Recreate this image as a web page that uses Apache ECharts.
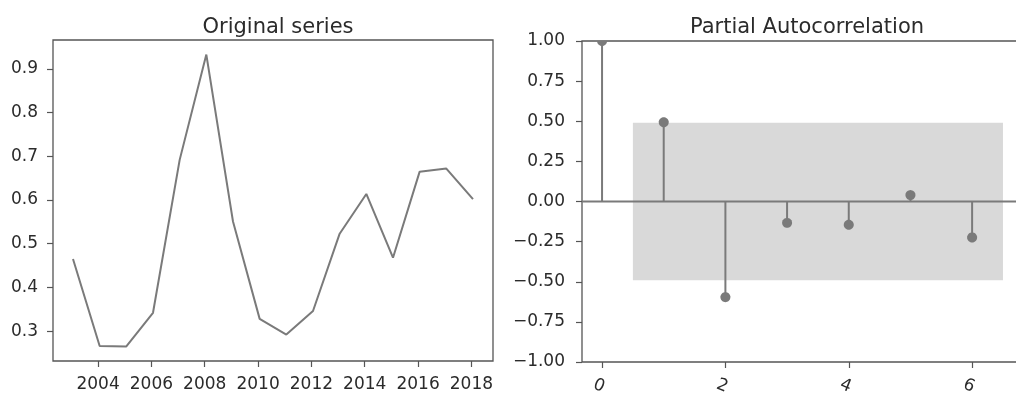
<!DOCTYPE html>
<html>
<head>
<meta charset="utf-8">
<script src="https://cdn.jsdelivr.net/npm/echarts@6/dist/echarts.min.js"></script>
<style>
  html, body { margin: 0; padding: 0; background: #fff; }
  #chart { width: 1016px; height: 396px; }
</style>
</head>
<body>
<div id="chart"></div>
<script>
// Annual observations
const dates = ['2003-01-23', '2004-01-23', '2005-01-23', '2006-01-23', '2007-01-23', '2008-01-23',
  '2009-01-23', '2010-01-23', '2011-01-23', '2012-01-23', '2013-01-23', '2014-01-23',
  '2015-01-23', '2016-01-23', '2017-01-23', '2018-01-23'];
const seriesValues = [0.465, 0.266, 0.265, 0.342, 0.692, 0.933, 0.551, 0.328,
  0.292, 0.346, 0.523, 0.614, 0.468, 0.665, 0.672, 0.602];
const yearTicks = [2004, 2006, 2008, 2010, 2012, 2014, 2016, 2018];
const valueTicks = [0.3, 0.4, 0.5, 0.6, 0.7, 0.8, 0.9];

// Partial autocorrelation by lag, with the 95% band
const lags = [0, 1, 2, 3, 4, 5, 6];
const pacfValues = [1.0, 0.494, -0.596, -0.133, -0.145, 0.04, -0.224];
const confLower = [0, -0.49, -0.49, -0.49, -0.49, -0.49, -0.49];
const confUpper = [0, 0.49, 0.49, 0.49, 0.49, 0.49, 0.49];
const lagTicks = [0, 2, 4, 6];

const FONT = 'DejaVu Sans';
const TEXT = '#2b2b2b';
const FRAME = '#555';
const MARK = '#7a7a7a';

function decimalYear(s) {
  const d = new Date(s + 'T00:00:00Z');
  const y = d.getUTCFullYear();
  const start = Date.UTC(y, 0, 1), end = Date.UTC(y + 1, 0, 1);
  return y + (d.getTime() - start) / (end - start);
}
const xYears = dates.map(decimalYear);

// matplotlib-style 5% margins around the data extent
function padded(arr, frac) {
  const lo = Math.min(...arr), hi = Math.max(...arr), s = hi - lo;
  return [lo - s * frac, hi + s * frac];
}
const xExt = padded(xYears, 0.05);
const yExt = padded(seriesValues, 0.05);
const lagExt = padded([lags[0], lags[lags.length - 1] + 0.5], 0.05);

const lineData = xYears.map((x, i) => [x, seriesValues[i]]);
const stemData = lags.map((l, i) => [l, pacfValues[i]]);

// confidence polygon spanning half a lag beyond the first and last band lags
const bandX = lags.slice(1).map((l, i, a) => i === 0 ? l - 0.5 : (i === a.length - 1 ? l + 0.5 : l));
const bandPts = bandX.map((x, i) => [x, confUpper[i + 1]])
  .concat(bandX.map((x, i) => [x, confLower[i + 1]]).reverse());

const tickLabel = { fontFamily: FONT, fontSize: 17, color: TEXT };
const tickStyle = { show: true, length: 6, inside: false, lineStyle: { color: FRAME, width: 1.2 } };
const noLine = { show: false, onZero: false };

// marker outline cut to the plotting area (the lag-0 dot sits on the top edge)
function clippedDot(cx, cy, r, rect) {
  const pts = [];
  const n = 36;
  for (let k = 0; k < n; k++) {
    const a = (k / n) * Math.PI * 2;
    const px = cx + r * Math.cos(a);
    const py = Math.min(Math.max(cy + r * Math.sin(a), rect.y), rect.y + rect.height);
    pts.push([px, py]);
  }
  return pts;
}

const chart = echarts.init(document.getElementById('chart'), null, { renderer: 'canvas' });
chart.setOption({
  animation: false,
  backgroundColor: '#fff',
  title: [
    { text: 'Original series', left: 273, top: 12, textAlign: 'center',
      textStyle: { fontFamily: FONT, fontSize: 21, fontWeight: 'normal', color: TEXT } },
    { text: 'Partial Autocorrelation', left: 802, top: 12, textAlign: 'center',
      textStyle: { fontFamily: FONT, fontSize: 21, fontWeight: 'normal', color: TEXT } }
  ],
  grid: [
    { left: 53, top: 40, width: 440, height: 321, outerBoundsMode: 'none', containLabel: false,
      show: true, borderColor: FRAME, borderWidth: 1.3, backgroundColor: 'transparent' },
    { left: 582, top: 41, width: 441, height: 321, outerBoundsMode: 'none', containLabel: false,
      show: true, borderColor: FRAME, borderWidth: 1.3, backgroundColor: 'transparent' }
  ],
  xAxis: [
    { type: 'value', gridIndex: 0, min: xExt[0], max: xExt[1],
      axisLine: noLine, splitLine: { show: false },
      axisTick: Object.assign({ customValues: yearTicks }, tickStyle),
      axisLabel: Object.assign({ margin: 15, customValues: yearTicks, formatter: v => String(Math.round(v)) }, tickLabel) },
    { type: 'value', gridIndex: 1, min: lagExt[0], max: lagExt[1],
      axisLine: noLine, splitLine: { show: false },
      axisTick: Object.assign({ customValues: lagTicks }, tickStyle),
      axisLabel: Object.assign({ margin: 16, rotate: -22, align: 'center', verticalAlign: 'top',
        customValues: lagTicks, formatter: v => String(Math.round(v)) }, tickLabel) }
  ],
  yAxis: [
    { type: 'value', gridIndex: 0, min: yExt[0], max: yExt[1],
      axisLine: noLine, splitLine: { show: false },
      axisTick: Object.assign({ customValues: valueTicks }, tickStyle),
      axisLabel: Object.assign({ margin: 15, customValues: valueTicks, formatter: v => v.toFixed(1) }, tickLabel) },
    { type: 'value', gridIndex: 1, min: -1, max: 1, interval: 0.25,
      axisLine: noLine, splitLine: { show: false },
      axisTick: tickStyle,
      axisLabel: Object.assign({ margin: 17, formatter: v => v.toFixed(2).replace('-', '\u2212') }, tickLabel) }
  ],
  series: [
    { type: 'line', xAxisIndex: 0, yAxisIndex: 0, data: lineData, showSymbol: false,
      lineStyle: { color: MARK, width: 2 }, z: 3 },
    { type: 'custom', name: 'band', xAxisIndex: 1, yAxisIndex: 1, data: [0], z: 1,
      renderItem: (params, api) => ({
        type: 'polygon',
        shape: { points: bandPts.map(p => api.coord(p)) },
        style: { fill: '#d9d9d9' }
      }) },
    { type: 'custom', name: 'zero', xAxisIndex: 1, yAxisIndex: 1, data: [0], z: 2,
      renderItem: (params, api) => {
        const a = api.coord([lagExt[0], 0]), b = api.coord([lagExt[1], 0]);
        return { type: 'line', shape: { x1: a[0], y1: a[1], x2: b[0], y2: b[1] },
          style: { stroke: MARK, lineWidth: 2 } };
      } },
    { type: 'custom', name: 'pacf', xAxisIndex: 1, yAxisIndex: 1, data: stemData, z: 3,
      renderItem: (params, api) => {
        const x = api.value(0), y = api.value(1);
        const p0 = api.coord([x, 0]), p1 = api.coord([x, y]);
        return { type: 'group', children: [
          { type: 'line', shape: { x1: p0[0], y1: p0[1], x2: p1[0], y2: p1[1] },
            style: { stroke: MARK, lineWidth: 2 } },
          { type: 'polygon', shape: { points: clippedDot(p1[0], p1[1], 5, params.coordSys) },
            style: { fill: MARK } }
        ] };
      } }
  ]
});
</script>
</body>
</html>
